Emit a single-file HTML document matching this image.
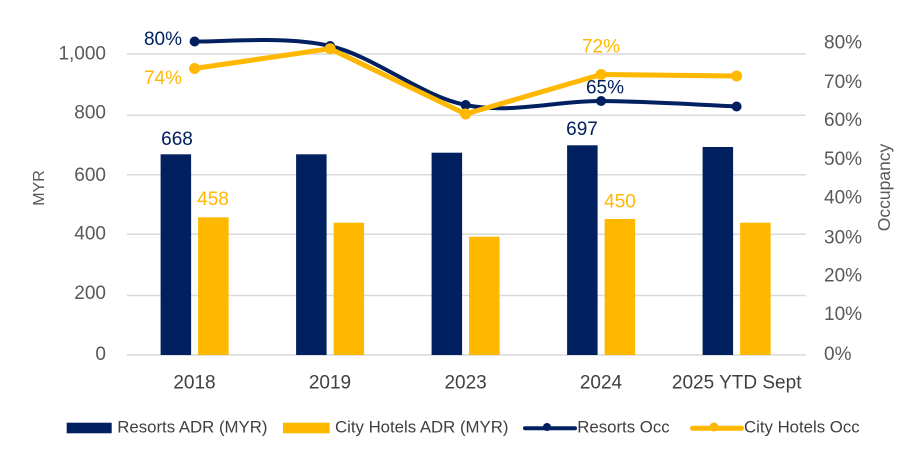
<!DOCTYPE html>
<html><head><meta charset="utf-8"><style>
html,body{margin:0;padding:0;background:#fff;}
svg{display:block;}
text{font-family:"Liberation Sans",Arial,sans-serif;}
</style></head><body>
<svg width="923" height="461" viewBox="0 0 923 461" xmlns="http://www.w3.org/2000/svg">
<rect width="923" height="461" fill="#fff"/>
<!-- gridlines -->
<g stroke="#d9d9d9" stroke-width="1.5">
<line x1="127" y1="54" x2="806" y2="54"/>
<line x1="127" y1="115.3" x2="806" y2="115.3"/>
<line x1="127" y1="174.7" x2="806" y2="174.7"/>
<line x1="127" y1="234.3" x2="806" y2="234.3"/>
<line x1="127" y1="295.5" x2="806" y2="295.5"/>
<line x1="127" y1="355" x2="806" y2="355"/>
</g>
<!-- left ticks -->
<g fill="#595959" font-size="19" text-anchor="end">
<text x="106" y="59.5">1,000</text>
<text x="106" y="118.3">800</text>
<text x="106" y="181">600</text>
<text x="106" y="239.3">400</text>
<text x="106" y="299">200</text>
<text x="106" y="360">0</text>
</g>
<!-- right ticks -->
<g fill="#595959" font-size="19" text-anchor="start">
<text x="824" y="48.3">80%</text>
<text x="824" y="88">70%</text>
<text x="824" y="126">60%</text>
<text x="824" y="165">50%</text>
<text x="824" y="203.3">40%</text>
<text x="824" y="243.3">30%</text>
<text x="824" y="281.7">20%</text>
<text x="824" y="320">10%</text>
<text x="824" y="360">0%</text>
</g>
<!-- axis titles -->
<text transform="translate(44,188) rotate(-90)" fill="#595959" font-size="16" text-anchor="middle">MYR</text>
<text transform="translate(890,187.5) rotate(-90)" fill="#595959" font-size="17.5" text-anchor="middle">Occupancy</text>
<!-- bars -->
<g fill="#002060">
<rect x="160.6" y="154.3" width="30.5" height="200.7"/>
<rect x="296.1" y="154.3" width="30.5" height="200.7"/>
<rect x="431.6" y="152.7" width="30.5" height="202.3"/>
<rect x="567.1" y="145.3" width="30.5" height="209.7"/>
<rect x="702.6" y="147" width="30.5" height="208"/>
</g>
<g fill="#FFB800">
<rect x="198.1" y="217.3" width="30.5" height="137.7"/>
<rect x="333.6" y="222.7" width="30.5" height="132.3"/>
<rect x="469.1" y="236.7" width="30.5" height="118.3"/>
<rect x="604.6" y="219" width="30.5" height="136"/>
<rect x="740.1" y="222.7" width="30.5" height="132.3"/>
</g>
<!-- resorts occ line (smoothed) -->
<path d="M194.6,41.5 C217.2,42.25 284.9,35.4 330.1,46 C375.3,56.6 420.4,95.8 465.6,105 C510.8,114.2 555.9,100.75 601.1,101 C646.3,101.25 714,105.6 736.6,106.5" fill="none" stroke="#002060" stroke-width="4" stroke-linejoin="round"/>
<g fill="#002060">
<circle cx="194.6" cy="41.5" r="5"/>
<circle cx="330.1" cy="46" r="5"/>
<circle cx="465.6" cy="105" r="5"/>
<circle cx="601.1" cy="101" r="5"/>
<circle cx="736.6" cy="106.5" r="5"/>
</g>
<!-- city occ line -->
<polyline points="194.6,68.5 330.1,48.7 465.6,114 601.1,74.5 736.6,76" fill="none" stroke="#FFB800" stroke-width="5" stroke-linejoin="round"/>
<g fill="#FFB800">
<circle cx="194.6" cy="68.5" r="5.5"/>
<circle cx="330.1" cy="48.7" r="5.5"/>
<circle cx="465.6" cy="114" r="5.5"/>
<circle cx="601.1" cy="74.5" r="5.5"/>
<circle cx="736.6" cy="76" r="5.5"/>
</g>
<!-- data labels -->
<g font-size="19" text-anchor="middle">
<text x="177" y="145" fill="#002060">668</text>
<text x="213" y="205" fill="#FFB800">458</text>
<text x="582" y="135" fill="#002060">697</text>
<text x="620" y="207.3" fill="#FFB800">450</text>
<text x="601" y="52.3" fill="#FFB800">72%</text>
<text x="605" y="93.3" fill="#002060">65%</text>
</g>
<g font-size="19" text-anchor="end">
<text x="182" y="45" fill="#002060">80%</text>
<text x="182" y="84" fill="#FFB800">74%</text>
</g>
<!-- category labels -->
<g fill="#404040" font-size="19" text-anchor="middle">
<text x="194.5" y="388.3">2018</text>
<text x="330" y="388.3">2019</text>
<text x="465.6" y="388.3">2023</text>
<text x="601" y="388.3">2024</text>
<text x="736.7" y="388.3">2025 YTD Sept</text>
</g>
<!-- legend -->
<rect x="66.7" y="422.7" width="45" height="10.6" fill="#002060"/>
<rect x="283" y="422.7" width="46.7" height="10.6" fill="#FFB800"/>
<line x1="525" y1="428.3" x2="575" y2="428.3" stroke="#002060" stroke-width="4" stroke-linecap="round"/>
<circle cx="547" cy="427" r="4" fill="#002060"/>
<line x1="692.5" y1="428.3" x2="741.5" y2="428.3" stroke="#FFB800" stroke-width="5" stroke-linecap="round"/>
<circle cx="714" cy="427" r="4.5" fill="#FFB800"/>
<g fill="#404040" font-size="16.8">
<text x="117.3" y="432.7">Resorts ADR (MYR)</text>
<text x="335" y="432.7">City Hotels ADR (MYR)</text>
<text x="577.3" y="432.7">Resorts Occ</text>
<text x="744" y="432.7">City Hotels Occ</text>
</g>
</svg>
</body></html>
